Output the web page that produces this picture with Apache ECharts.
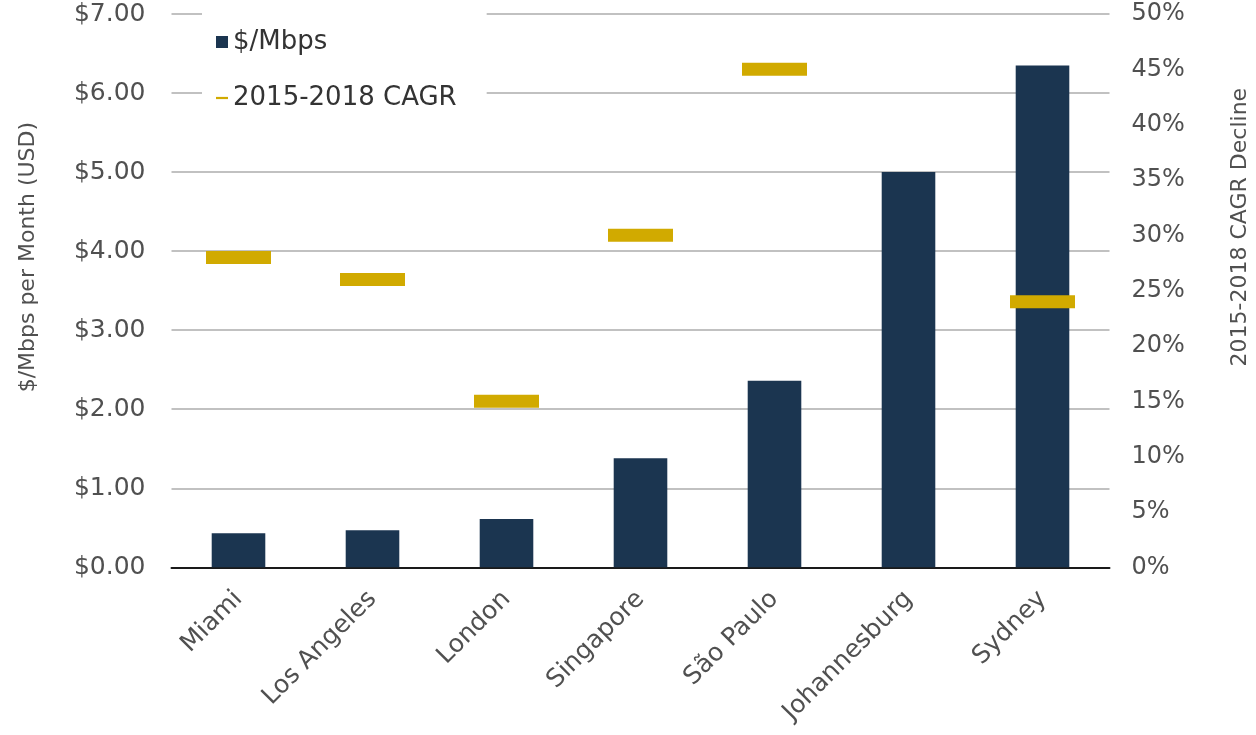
<!DOCTYPE html>
<html>
<head>
<meta charset="utf-8">
<script src="https://cdn.jsdelivr.net/npm/echarts@6/dist/echarts.min.js"></script>
<style>html,body{margin:0;padding:0;background:#fff;}#chart{width:1256px;height:735px;}</style>
</head>
<body>
<div id="chart"></div>
<script>
var categories = ['Miami', 'Los Angeles', 'London', 'Singapore', 'São Paulo', 'Johannesburg', 'Sydney'];
var pricePerMbps = [0.43, 0.47, 0.61, 1.38, 2.36, 5.00, 6.35];
var cagrDecline = [0.28, 0.26, 0.15, 0.30, 0.45, null, 0.24];
var leftTicks = { min: 0, max: 7, interval: 1 };
var rightTicks = { min: 0, max: 0.5, interval: 0.05 };

var FONT = '"DejaVu Sans", "Liberation Sans", Arial, sans-serif';
var TXT = '#505050';
var chart = echarts.init(document.getElementById('chart'), null, { renderer: 'canvas' });
chart.setOption({
  backgroundColor: '#ffffff',
  animation: false,
  textStyle: { fontFamily: FONT },
  grid: { left: 171.5, right: 146.5, top: 14, bottom: 167.7, containLabel: false, outerBoundsMode: 'none' },
  legend: {
    orient: 'vertical',
    left: 202,
    top: 10,
    padding: [19, 30, 8, 14],
    backgroundColor: '#ffffff',
    itemGap: 30,
    itemWidth: 12,
    itemHeight: 12,
    textStyle: { fontSize: 26, color: '#333', fontFamily: FONT, padding: [0, 0, 0, 0] },
    data: [
      { name: '$/Mbps', icon: 'rect' },
      { name: '2015-2018 CAGR', icon: 'path://M0,0h13v2.4h-13z' }
    ]
  },
  xAxis: {
    type: 'category',
    data: categories,
    axisTick: { show: false },
    axisLine: { lineStyle: { color: '#1a1a1a', width: 2 } },
    axisLabel: { rotate: 45, fontSize: 25, color: TXT, margin: 28, interval: 0, fontFamily: FONT }
  },
  yAxis: [
    {
      type: 'value',
      min: leftTicks.min, max: leftTicks.max, interval: leftTicks.interval,
      name: '$/Mbps per Month (USD)',
      nameLocation: 'middle',
      nameRotate: 90,
      nameGap: 132,
      nameTextStyle: { fontSize: 22, color: TXT, fontFamily: FONT, padding: [0, 0, 0, 67] },
      axisLine: { show: false },
      axisTick: { show: false },
      splitLine: { lineStyle: { color: '#adadad', width: 1.5 } },
      axisLabel: {
        fontSize: 25, color: TXT, margin: 26, fontFamily: FONT,
        formatter: function (v) { return '$' + v.toFixed(2); }
      }
    },
    {
      type: 'value',
      min: rightTicks.min, max: rightTicks.max, interval: rightTicks.interval,
      name: '2015-2018 CAGR Decline',
      nameLocation: 'middle',
      nameRotate: 90,
      nameGap: 120,
      nameTextStyle: { fontSize: 22, color: TXT, fontFamily: FONT, padding: [0, 0, 0, 127] },
      axisLine: { show: false },
      axisTick: { show: false },
      splitLine: { show: false },
      axisLabel: {
        fontSize: 24, color: TXT, margin: 22, fontFamily: FONT,
        formatter: function (v) { return Math.round(v * 100) + '%'; }
      }
    }
  ],
  series: [
    {
      name: '$/Mbps',
      type: 'bar',
      data: pricePerMbps,
      barWidth: '40%',
      itemStyle: { color: '#1b3550' },
      z: 2
    },
    {
      name: '2015-2018 CAGR',
      type: 'scatter',
      yAxisIndex: 1,
      data: cagrDecline,
      symbol: 'rect',
      symbolSize: [65, 13],
      itemStyle: { color: '#d1aa00', opacity: 1 },
      z: 3
    }
  ]
});
</script>
</body>
</html>
